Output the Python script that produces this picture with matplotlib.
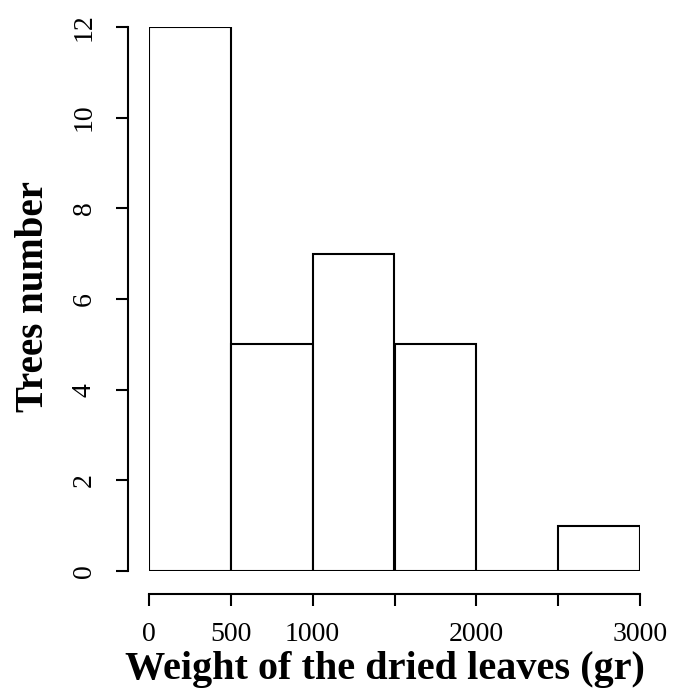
import matplotlib
matplotlib.use("Agg")
import matplotlib.pyplot as plt

bin_edges = [0, 500, 1000, 1500, 2000, 2500, 3000]
counts = [12, 5, 7, 5, 0, 1]
x_ticks = [0, 500, 1000, 1500, 2000, 2500, 3000]
x_tick_labels = ["0", "500", "1000", "", "2000", "", "3000"]
y_ticks = [0, 2, 4, 6, 8, 10, 12]
x_label = "Weight of the dried leaves (gr)"
y_label = "Trees number"

plt.rcParams['font.family'] = ['Liberation Serif', 'DejaVu Serif']

W, H = 687, 690
fig = plt.figure(figsize=(W / 100, H / 100), dpi=100)
x0, x1 = 149, 640
y0, y1 = 571, 27
ax = fig.add_axes([x0 / W, (H - y0) / H, (x1 - x0) / W, (y0 - y1) / H])

widths = [bin_edges[i + 1] - bin_edges[i] for i in range(len(counts))]
ax.bar(bin_edges[:-1], counts, width=widths, align='edge',
       facecolor='white', edgecolor='black', linewidth=1.5)

ax.set_xlim(bin_edges[0], bin_edges[-1])
ax.set_ylim(0, max(counts))

for s in ['top', 'right']:
    ax.spines[s].set_visible(False)
ax.spines['left'].set_position(('outward', 15))
ax.spines['bottom'].set_position(('outward', 16.5))
ax.spines['left'].set_bounds(0, 12)
ax.spines['bottom'].set_bounds(0, 3000)
for s in ['left', 'bottom']:
    ax.spines[s].set_linewidth(1.5)

ax.set_xticks(x_ticks)
ax.set_xticklabels(x_tick_labels)
ax.set_yticks(y_ticks)
ax.set_yticklabels([str(v) for v in y_ticks], rotation=90, va='center')
ax.tick_params(axis='both', length=8.5, width=1.5, labelsize=20, colors='black')
ax.tick_params(axis='x', pad=12)
ax.tick_params(axis='y', pad=14)

fig.text(385 / W, 1 - 679 / H, x_label, ha='center', va='baseline',
         fontsize=29, fontweight='bold')
fig.text(43 / W, 1 - 297 / H, y_label, ha='center', va='baseline',
         fontsize=28, fontweight='bold', rotation=90, rotation_mode='anchor')

fig.savefig("out.png", dpi=100)
